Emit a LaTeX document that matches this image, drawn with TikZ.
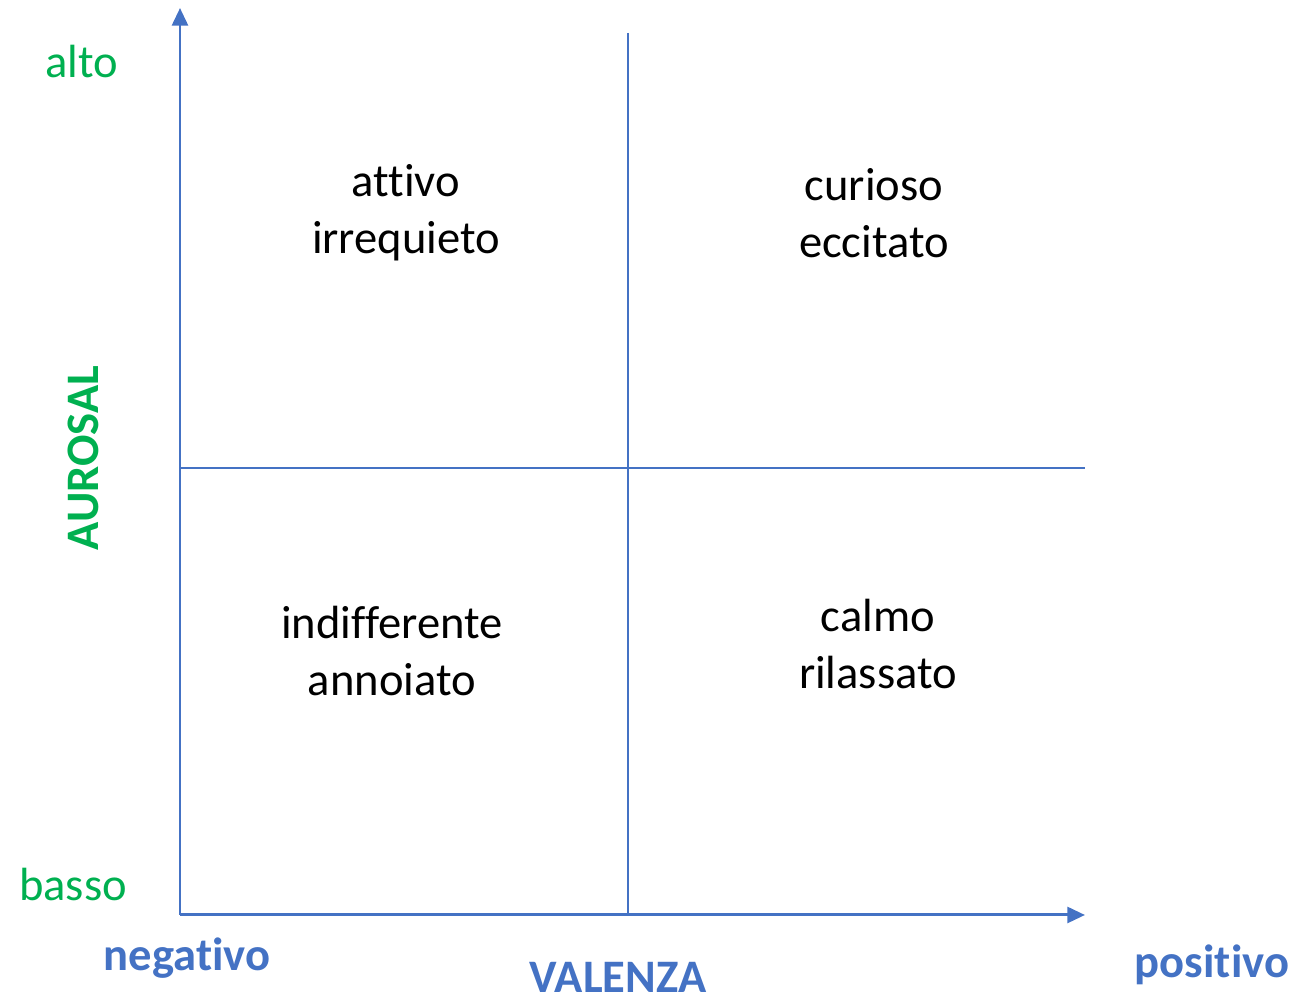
\documentclass[tikz,border=0pt]{standalone}
\usepackage{fontspec}
\setmainfont{Carlito}[Ligatures={NoCommon}]
\usetikzlibrary{arrows.meta}
\definecolor{axisblue}{HTML}{4472C4}
\definecolor{levelgreen}{HTML}{00B050}
\tikzset{
  axis/.style={draw=axisblue, line width=1.7pt, -{Triangle[length=10pt,width=9pt]}},
  divider/.style={draw=axisblue, line width=0.7pt},
  quadrant/.style={align=center, font=\fontsize{26.5}{32.5}\selectfont},
  level/.style={text=levelgreen, font=\fontsize{26.5}{32}\selectfont},
  pole/.style={text=axisblue, font=\fontsize{26.5}{32}\selectfont\bfseries}
}
\begin{document}
\begin{tikzpicture}[x=0.02cm, y=0.02cm]
    \useasboundingbox (0,0) rectangle (1316,999);
    \coordinate (O) at (180,84);
    \coordinate (Ytop) at (180,991);
    \coordinate (Xend) at (1085,84);
    \coordinate (Mtop) at (628,966);
    \coordinate (Mbot) at (628,84);
    \coordinate (Hleft) at (180,531);
    \coordinate (Hright) at (1085,531);
    % dividers
    \draw[divider] (Mtop) -- (Mbot);
    \draw[divider] (Hleft) -- (Hright);
    % axes
    \draw[axis] (O) -- (Ytop);
    \draw[axis] (O) -- (Xend);
    % axis labels
    \node[level] at (82,937) (alto) {alto};
    \node[level] at (73,114) (basso) {basso};
    \node[level, font=\fontsize{26.5}{32}\selectfont\bfseries, rotate=90] at (83,541) (aurosal) {AUROSAL};
    \node[pole] at (187,41) (negativo) {negativo};
    \node[pole, anchor=base, inner sep=0pt] at (618,6) (valenza) {VALENZA};
    \node[pole] at (1212,34) (positivo) {positivo};
    % quadrants
    \node[quadrant] at (406,786) (attivo) {attivo\\irrequieto};
    \node[quadrant] at (874,786) (curioso) {curioso\\eccitato};
    \node[quadrant] at (392,348) (indifferente) {indifferente\\annoiato};
    \node[quadrant] at (878,355) (calmo) {calmo\\rilassato};
\end{tikzpicture}
\end{document}
